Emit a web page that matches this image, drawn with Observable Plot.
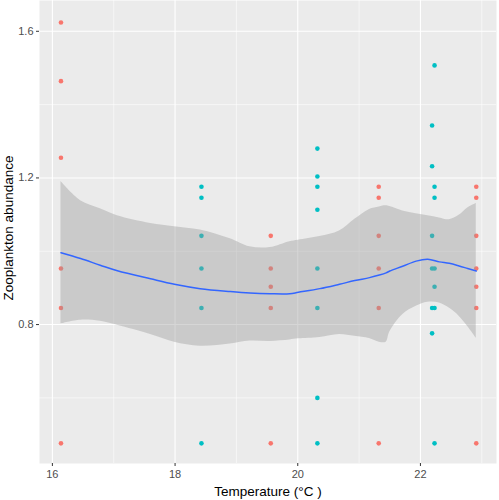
<!DOCTYPE html>
<html>
<head>
<meta charset="utf-8">
<script src="https://cdn.jsdelivr.net/npm/d3@7"></script>
<script src="https://cdn.jsdelivr.net/npm/@observablehq/plot@0.6"></script>
<style>
  html, body { margin: 0; padding: 0; background: #ffffff; }
  #chart svg { display: block; }
</style>
</head>
<body>
<div id="chart"></div>
<script>
// Observed points
const redTemp = [16.14, 16.14, 16.14, 16.14, 16.14, 16.14,
  19.56, 19.56, 19.56, 19.56, 19.56,
  21.32, 21.32, 21.32, 21.32, 21.32, 21.32,
  22.91, 22.91, 22.91, 22.91, 22.91, 22.91, 22.91];
const redAbund = [1.624, 1.464, 1.255, 0.953, 0.845, 0.476,
  1.042, 0.953, 0.903, 0.845, 0.476,
  1.176, 1.146, 1.042, 0.953, 0.845, 0.476,
  1.176, 1.146, 1.042, 0.953, 0.903, 0.845, 0.476];
const cyanTemp = [18.43, 18.43, 18.43, 18.43, 18.43, 18.43,
  20.32, 20.32, 20.32, 20.32, 20.32, 20.32, 20.32, 20.32,
  22.19, 22.19, 22.19, 22.19, 22.19, 22.19,
  22.23, 22.23, 22.23, 22.23, 22.23, 22.23, 22.23];
const cyanAbund = [1.176, 1.146, 1.042, 0.953, 0.845, 0.476,
  1.280, 1.204, 1.176, 1.113, 0.953, 0.845, 0.600, 0.476,
  1.343, 1.232, 1.042, 0.953, 0.845, 0.776,
  1.507, 1.176, 1.146, 0.953, 0.903, 0.845, 0.476];
const groups = ["A", "B"];
const groupColors = ["#F8766D", "#00BFC4"];

// Smoothed fit with confidence band
const smoothX = [16.14, 16.46, 16.78, 17.06, 17.60, 17.99, 18.41, 18.90, 19.22, 19.55, 19.87, 20.01, 20.36, 20.68, 20.93, 21.17, 21.33, 21.44, 21.50, 21.71, 21.93, 22.12, 22.31, 22.47, 22.63, 22.77, 22.91];
const smoothFit = [0.996, 0.980, 0.962, 0.947, 0.925, 0.910, 0.898, 0.890, 0.886, 0.884, 0.884, 0.888, 0.898, 0.910, 0.920, 0.928, 0.935, 0.941, 0.946, 0.959, 0.973, 0.978, 0.971, 0.967, 0.960, 0.953, 0.946];
const smoothUpper = [1.190, 1.138, 1.116, 1.097, 1.076, 1.067, 1.058, 1.034, 1.012, 1.010, 1.026, 1.030, 1.040, 1.055, 1.087, 1.114, 1.121, 1.124, 1.122, 1.110, 1.102, 1.097, 1.091, 1.086, 1.098, 1.118, 1.130];
const smoothLower = [0.802, 0.812, 0.809, 0.798, 0.773, 0.752, 0.741, 0.747, 0.755, 0.754, 0.758, 0.761, 0.765, 0.773, 0.768, 0.762, 0.752, 0.752, 0.780, 0.827, 0.850, 0.861, 0.859, 0.845, 0.823, 0.795, 0.763];

const xMajor = [16, 18, 20, 22];
const xMinor = [17, 19, 21, 23];
const yMajor = [0.8, 1.2, 1.6];
const yMinor = [0.6, 1.0, 1.4];
const xTitle = "Temperature (°C )";
const yTitle = "Zooplankton abundance";

const points = [
  ...redTemp.map((t, i) => ({temp: t, abund: redAbund[i], group: groups[0]})),
  ...cyanTemp.map((t, i) => ({temp: t, abund: cyanAbund[i], group: groups[1]}))
];
const smooth = smoothX.map((x, i) => ({x, fit: smoothFit[i], lo: smoothLower[i], hi: smoothUpper[i]}));

const chart = Plot.plot({
  width: 499,
  height: 500,
  marginLeft: 39,
  marginRight: 3,
  marginTop: 0,
  marginBottom: 37,
  style: {fontFamily: "Liberation Sans, Arial, sans-serif", background: "#ffffff", overflow: "visible"},
  x: {domain: [15.79, 23.24]},
  y: {domain: [0.421, 1.684]},
  color: {domain: groups, range: groupColors},
  marks: [
    Plot.frame({fill: "#EBEBEB", stroke: null}),
    Plot.ruleX(xMinor, {stroke: "#ffffff", strokeWidth: 0.55}),
    Plot.ruleY(yMinor, {stroke: "#ffffff", strokeWidth: 0.55}),
    Plot.ruleX(xMajor, {stroke: "#ffffff", strokeWidth: 1.1}),
    Plot.ruleY(yMajor, {stroke: "#ffffff", strokeWidth: 1.1}),
    Plot.dot(points, {x: "temp", y: "abund", fill: "group", r: 2.3, stroke: null}),
    Plot.areaY(smooth, {x: "x", y1: "lo", y2: "hi", fill: "#999999", fillOpacity: 0.4, curve: "catmull-rom"}),
    Plot.line(smooth, {x: "x", y: "fit", stroke: "#3366FF", strokeWidth: 1.5, curve: "catmull-rom"}),
    Plot.axisX(xMajor, {tickSize: 3, tickPadding: 4, stroke: "#333333", color: "#4D4D4D", fontSize: 11, label: null}),
    Plot.axisY(yMajor, {tickSize: 3, tickPadding: 3, stroke: "#333333", color: "#4D4D4D", fontSize: 11, label: null, tickFormat: d3.format(".1f")}),
    Plot.text([xTitle], {frameAnchor: "bottom", dy: 28, text: d => d, fontSize: 13.5, fill: "#000000", textAnchor: "middle", lineAnchor: "middle"}),
    Plot.text([yTitle], {frameAnchor: "left", dx: -31, dy: -4, rotate: -90, text: d => d, fontSize: 13.5, fill: "#000000", textAnchor: "middle", lineAnchor: "middle"})
  ]
});
document.getElementById("chart").appendChild(chart);
</script>
</body>
</html>
